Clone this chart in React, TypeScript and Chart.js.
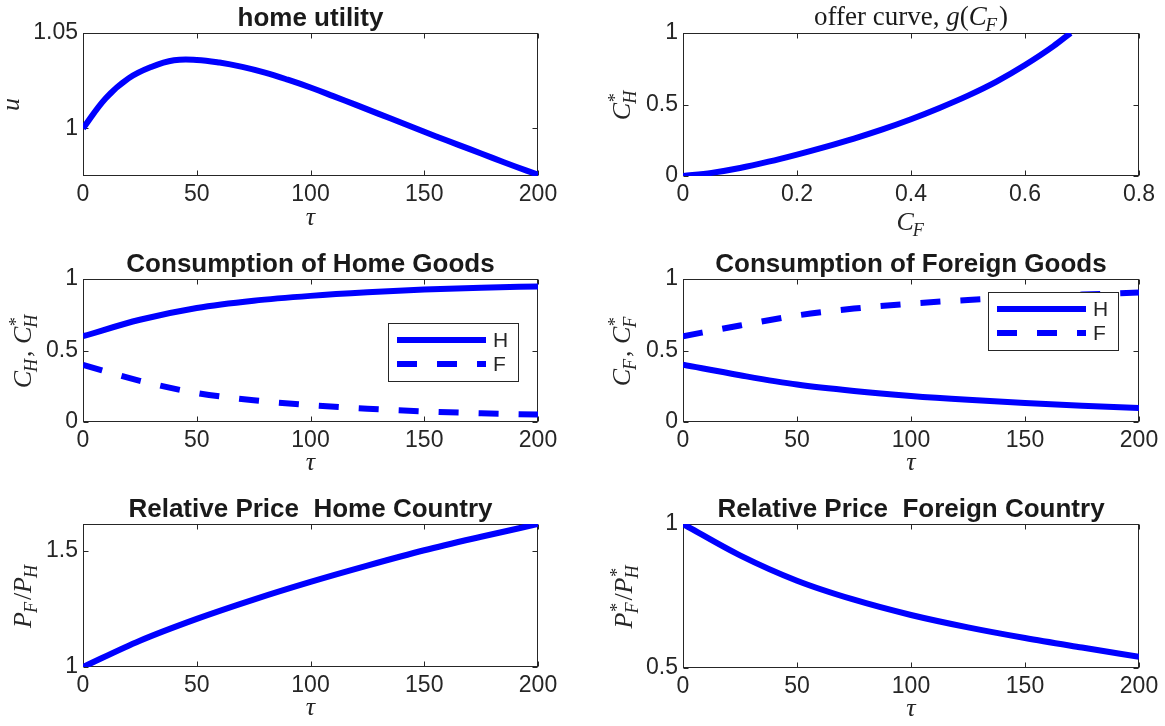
import React, { useEffect, useRef } from 'react';
import { Chart, registerables } from 'chart.js';

Chart.register(...registerables);

// Tariff grid τ (percent) used by the consumption and price panels
const TAU = [0, 25, 50, 75, 100, 125, 150, 175, 200];
// Grid for the utility curve
const TAU_UTILITY = [0, 10, 20, 30, 40, 50, 60, 70, 80, 90, 100, 110, 120, 130, 140, 150, 160, 170, 180, 190, 200];
const HOME_UTILITY = [1.0, 1.0158, 1.0262, 1.0322, 1.0357, 1.0359, 1.0345, 1.0322, 1.0292, 1.0255, 1.0214, 1.0169, 1.0123, 1.0076, 1.0029, 0.9982, 0.9936, 0.9891, 0.9845, 0.98, 0.9757];

// Foreign offer curve C_H* = g(C_F)
const OFFER_C_F = [0, 0.05, 0.1, 0.15, 0.2, 0.25, 0.3, 0.35, 0.4, 0.45, 0.5, 0.55, 0.6, 0.65, 0.68];
const OFFER_C_H_STAR = [0, 0.022, 0.056, 0.1, 0.15, 0.204, 0.262, 0.326, 0.397, 0.476, 0.562, 0.66, 0.776, 0.908, 1.0];

// Consumption of home goods (home: C_H, foreign: C_H*)
const C_H = [0.6, 0.715, 0.797, 0.848, 0.882, 0.907, 0.926, 0.939, 0.948];
const C_H_STAR = [0.4, 0.288, 0.203, 0.152, 0.118, 0.093, 0.074, 0.061, 0.052];
// Consumption of foreign goods (home: C_F, foreign: C_F*)
const C_F = [0.4, 0.327, 0.262, 0.217, 0.182, 0.155, 0.133, 0.114, 0.098];
const C_F_STAR = [0.6, 0.675, 0.745, 0.793, 0.828, 0.853, 0.873, 0.891, 0.905];

// Relative prices
const PRICE_HOME = [1.0, 1.113, 1.207, 1.29, 1.366, 1.436, 1.502, 1.56, 1.615];
const PRICE_FOREIGN = [1.0, 0.891, 0.803, 0.737, 0.684, 0.641, 0.604, 0.571, 0.539];

// Tick values
const TAU_TICKS = [0, 50, 100, 150, 200];
const C_F_TICKS = [0, 0.2, 0.4, 0.6, 0.8];
const SHARE_TICKS = [0, 0.5, 1];
const UTILITY_TICKS = [1, 1.05];
const HOME_PRICE_TICKS = [1, 1.5];
const FOREIGN_PRICE_TICKS = [0.5, 1];
const LEGEND_LABELS = ['H', 'F'];

const BLUE = '#0000ff';
const AXIS = '#262626';
const SANS = '"Liberation Sans", Arial, Helvetica, sans-serif';
const SERIF = '"Liberation Serif", "Times New Roman", serif';
const LINE_W = 6;
const DASH = [20, 20];

type Seg = { t: string; it?: boolean; sub?: string; sup?: string };

// Draws a short run of math-like text (italic letters, sub/superscripts),
// centred on x with its baseline at y.
function drawMath(ctx: CanvasRenderingContext2D, segs: Seg[], x: number, y: number, size: number) {
  const small = size * 0.7;
  const f = (it: boolean, s: number) => `${it ? 'italic ' : ''}${s}px ${SERIF}`;
  const parts = segs.map((s) => {
    ctx.font = f(!!s.it, size);
    const w = ctx.measureText(s.t).width;
    let subW = 0;
    let supW = 0;
    if (s.sub) { ctx.font = f(true, small); subW = ctx.measureText(s.sub).width; }
    if (s.sup) { ctx.font = f(false, small); supW = ctx.measureText(s.sup).width; }
    const extra = Math.max(subW, supW);
    return { s, w, total: w + extra + (extra ? size * 0.03 : 0) };
  });
  const totalW = parts.reduce((a, p) => a + p.total, 0);
  let cx = x - totalW / 2;
  ctx.textAlign = 'left';
  ctx.textBaseline = 'alphabetic';
  for (const p of parts) {
    ctx.font = f(!!p.s.it, size);
    ctx.fillText(p.s.t, cx, y);
    if (p.s.sub) {
      ctx.font = f(true, small);
      ctx.fillText(p.s.sub, cx + p.w - size * 0.04, y + size * 0.22);
    }
    if (p.s.sup) {
      ctx.font = f(false, small);
      ctx.fillText(p.s.sup, cx + p.w + size * 0.02, y - size * 0.36);
    }
    cx += p.total;
  }
}

type Series = { xs: number[]; ys: number[]; dashed?: boolean; label?: string; smooth?: boolean };
type Panel = {
  region: [number, number, number, number];
  area: [number, number, number, number];
  x: [number, number, number[]];
  y: [number, number, number[]];
  series: Series[];
  title: string | Seg[];
  xLabel: Seg[];
  xLabelOffset: number;
  yLabel: Seg[];
  yLabelX: number;
  legend?: [number, number];
};

const TAU_LABEL: Seg[] = [{ t: 'τ', it: true }];

const PANELS: Panel[] = [
  {
    region: [0, 0, 582, 240],
    area: [83, 33, 538, 176],
    x: [0, 200, TAU_TICKS],
    y: [0.975, 1.05, UTILITY_TICKS],
    series: [{ xs: TAU_UTILITY, ys: HOME_UTILITY, smooth: true }],
    title: 'home utility',
    xLabel: TAU_LABEL,
    xLabelOffset: 49,
    yLabel: [{ t: 'u', it: true }],
    yLabelX: 19,
  },
  {
    region: [582, 0, 583, 240],
    area: [683, 33, 1139, 176],
    x: [0, 0.8, C_F_TICKS],
    y: [0, 1, SHARE_TICKS],
    series: [{ xs: OFFER_C_F, ys: OFFER_C_H_STAR }],
    title: [{ t: 'offer curve, ' }, { t: 'g', it: true }, { t: '(' }, { t: 'C', it: true, sub: 'F' }, { t: ')' }],
    xLabel: [{ t: 'C', it: true, sub: 'F' }],
    xLabelOffset: 54,
    yLabel: [{ t: 'C', it: true, sub: 'H', sup: '*' }],
    yLabelX: 630,
  },
  {
    region: [0, 240, 582, 242],
    area: [83, 279, 538, 422],
    x: [0, 200, TAU_TICKS],
    y: [0, 1, SHARE_TICKS],
    series: [
      { xs: TAU, ys: C_H, label: LEGEND_LABELS[0] },
      { xs: TAU, ys: C_H_STAR, dashed: true, label: LEGEND_LABELS[1] },
    ],
    title: 'Consumption of Home Goods',
    xLabel: TAU_LABEL,
    xLabelOffset: 48,
    yLabel: [{ t: 'C', it: true, sub: 'H' }, { t: ', ' }, { t: 'C', it: true, sub: 'H', sup: '*' }],
    yLabelX: 31,
    legend: [388, 323],
  },
  {
    region: [582, 240, 583, 242],
    area: [683, 279, 1139, 422],
    x: [0, 200, TAU_TICKS],
    y: [0, 1, SHARE_TICKS],
    series: [
      { xs: TAU, ys: C_F, label: LEGEND_LABELS[0] },
      { xs: TAU, ys: C_F_STAR, dashed: true, label: LEGEND_LABELS[1] },
    ],
    title: 'Consumption of Foreign Goods',
    xLabel: TAU_LABEL,
    xLabelOffset: 48,
    yLabel: [{ t: 'C', it: true, sub: 'F' }, { t: ', ' }, { t: 'C', it: true, sub: 'F', sup: '*' }],
    yLabelX: 630,
    legend: [988, 292],
  },
  {
    region: [0, 482, 582, 244],
    area: [83, 524, 538, 667],
    x: [0, 200, TAU_TICKS],
    y: [1, 1.615, HOME_PRICE_TICKS],
    series: [{ xs: TAU, ys: PRICE_HOME }],
    title: 'Relative Price  Home Country',
    xLabel: TAU_LABEL,
    xLabelOffset: 48,
    yLabel: [{ t: 'P', it: true, sub: 'F' }, { t: '/' }, { t: 'P', it: true, sub: 'H' }],
    yLabelX: 31,
  },
  {
    region: [582, 482, 583, 244],
    area: [683, 524, 1139, 668],
    x: [0, 200, TAU_TICKS],
    y: [0.5, 1, FOREIGN_PRICE_TICKS],
    series: [{ xs: TAU, ys: PRICE_FOREIGN }],
    title: 'Relative Price  Foreign Country',
    xLabel: TAU_LABEL,
    xLabelOffset: 48,
    yLabel: [{ t: 'P', it: true, sub: 'F', sup: '*' }, { t: '/' }, { t: 'P', it: true, sub: 'H', sup: '*' }],
    yLabelX: 632,
  },
];

function axesPlugin(p: Panel) {
  const [rx, ry] = p.region;
  return {
    id: 'boxedAxes',
    beforeDatasetsDraw(chart: any) {
      const { ctx, chartArea: a, scales } = chart;
      ctx.save();
      ctx.strokeStyle = AXIS;
      ctx.lineWidth = 1;
      const L = Math.round(a.left) + 0.5;
      const R = Math.round(a.right) - 0.5;
      const T = Math.round(a.top) + 0.5;
      const B = Math.round(a.bottom) - 0.5;
      ctx.strokeRect(L, T, R - L, B - T);
      ctx.beginPath();
      for (const t of scales.x.ticks) {
        const px = Math.round(scales.x.getPixelForValue(t.value)) + 0.5;
        ctx.moveTo(px, B); ctx.lineTo(px, B - 5);
        ctx.moveTo(px, T); ctx.lineTo(px, T + 5);
      }
      for (const t of scales.y.ticks) {
        const py = Math.round(scales.y.getPixelForValue(t.value)) + 0.5;
        ctx.moveTo(L, py); ctx.lineTo(L + 5, py);
        ctx.moveTo(R, py); ctx.lineTo(R - 5, py);
      }
      ctx.stroke();
      ctx.restore();
    },
    afterDatasetsDraw(chart: any) {
      if (!p.legend) return;
      const { ctx } = chart;
      const lx = p.legend[0] - rx;
      const ly = p.legend[1] - ry;
      ctx.save();
      ctx.fillStyle = '#ffffff';
      ctx.fillRect(lx, ly, 130, 58);
      ctx.strokeStyle = AXIS;
      ctx.lineWidth = 1;
      ctx.strokeRect(lx + 0.5, ly + 0.5, 130, 58);
      chart.data.datasets.forEach((ds: any, i: number) => {
        const yy = ly + 17 + i * 24;
        ctx.strokeStyle = BLUE;
        ctx.lineWidth = LINE_W;
        ctx.setLineDash(ds.borderDash || []);
        ctx.beginPath();
        ctx.moveTo(lx + 9, yy);
        ctx.lineTo(lx + 98, yy);
        ctx.stroke();
        ctx.setLineDash([]);
        ctx.fillStyle = AXIS;
        ctx.font = `21px ${SANS}`;
        ctx.textAlign = 'left';
        ctx.textBaseline = 'middle';
        ctx.fillText(ds.label, lx + 105, yy + 1);
      });
      ctx.restore();
    },
    afterDraw(chart: any) {
      const { ctx, chartArea: a } = chart;
      const cx = (a.left + a.right) / 2;
      ctx.save();
      ctx.fillStyle = '#1a1a1a';
      if (typeof p.title === 'string') {
        ctx.font = `bold 26px ${SANS}`;
        ctx.textAlign = 'center';
        ctx.textBaseline = 'alphabetic';
        ctx.fillText(p.title, cx, a.top - 7);
      } else {
        drawMath(ctx, p.title, cx, a.top - 8, 27);
      }
      ctx.fillStyle = AXIS;
      drawMath(ctx, p.xLabel, cx, a.bottom + p.xLabelOffset, 26);
      ctx.save();
      ctx.translate(p.yLabelX - rx, (a.top + a.bottom) / 2);
      ctx.rotate(-Math.PI / 2);
      drawMath(ctx, p.yLabel, 0, 0, 26);
      ctx.restore();
      ctx.restore();
    },
  };
}

function PanelChart({ p }: { p: Panel }) {
  const ref = useRef<HTMLCanvasElement | null>(null);
  useEffect(() => {
    const canvas = ref.current;
    if (!canvas) return;
    const [rx, ry, rw, rh] = p.region;
    const [al, at, ar, ab] = p.area;
    const tickFont = { family: SANS, size: 23 };
    const fixTicks = (vals: number[]) => (s: any) => {
      s.ticks = vals.map((v) => ({ value: v }));
    };
    const chart = new Chart(canvas, {
      type: 'line',
      data: {
        datasets: p.series.map((s) => ({
          label: s.label || '',
          data: s.xs.map((x, i) => ({ x, y: s.ys[i] })),
          borderColor: BLUE,
          borderWidth: LINE_W,
          borderDash: s.dashed ? DASH : [],
          pointRadius: 0,
          fill: false,
          cubicInterpolationMode: s.smooth ? 'default' : 'monotone',
          tension: s.smooth ? 0.4 : 0,
        })),
      },
      options: {
        responsive: false,
        animation: false,
        devicePixelRatio: 1,
        events: [],
        layout: { padding: { left: 0, top: at - ry, right: rx + rw - ar, bottom: 0 } },
        plugins: { legend: { display: false }, tooltip: { enabled: false }, title: { display: false } },
        scales: {
          x: {
            type: 'linear',
            min: p.x[0],
            max: p.x[1],
            afterBuildTicks: fixTicks(p.x[2]),
            afterFit: (s: any) => { s.height = ry + rh - ab; },
            grid: { display: false, drawTicks: false },
            border: { display: false },
            ticks: {
              font: tickFont,
              color: AXIS,
              padding: 5,
              maxRotation: 0,
              autoSkip: false,
              callback: (v: any) => String(Number(v)),
            },
          },
          y: {
            type: 'linear',
            min: p.y[0],
            max: p.y[1],
            afterBuildTicks: fixTicks(p.y[2]),
            afterFit: (s: any) => { s.width = al - rx; },
            grid: { display: false, drawTicks: false },
            border: { display: false },
            ticks: {
              font: tickFont,
              color: AXIS,
              padding: 5,
              autoSkip: false,
              callback: (v: any) => String(Number(v)),
            },
          },
        },
      },
      plugins: [axesPlugin(p)],
    } as any);
    return () => chart.destroy();
  }, [p]);
  const [rx, ry, rw, rh] = p.region;
  return (
    <canvas
      ref={ref}
      width={rw}
      height={rh}
      style={{ position: 'absolute', left: rx, top: ry, width: rw, height: rh, display: 'block' }}
    />
  );
}

export default function App() {
  return (
    <div style={{ position: 'absolute', left: 0, top: 0, width: 1165, height: 726, background: '#ffffff', overflow: 'hidden' }}>
      {PANELS.map((p, i) => (
        <PanelChart key={i} p={p} />
      ))}
    </div>
  );
}
